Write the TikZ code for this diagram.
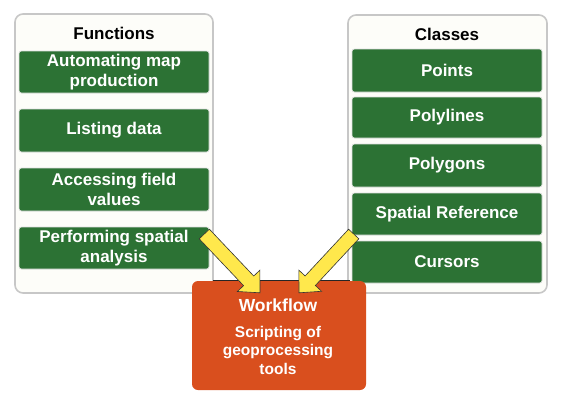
\documentclass[tikz,border=0pt]{standalone}
\usepackage{fontspec}
\setmainfont{Liberation Sans}
\usetikzlibrary{calc}
\definecolor{boxgreen}{HTML}{2C7234}
\definecolor{wforange}{HTML}{D94F1E}
\definecolor{arrowyellow}{HTML}{FFE84C}
\definecolor{panelfill}{HTML}{FDFDF9}
\tikzset{
  panel/.style={draw=black!22, line width=1.6pt, fill=panelfill, rounded corners=8pt},
  greenbox/.style={fill=boxgreen, draw=black!12, line width=0.6pt, rounded corners=2.5pt, text=white,
    font=\fontsize{17}{20.5}\selectfont\bfseries, align=center, inner sep=0pt},
  paneltitle/.style={font=\fontsize{17}{20}\selectfont\bfseries, text=black},
  wfbox/.style={fill=wforange, rounded corners=6pt, inner sep=0pt},
  wftext/.style={text=white, font=\bfseries, align=center},
  blockarrow/.style={fill=arrowyellow, draw=black!80, line width=0.6pt, line join=miter}
}
\newcommand{\blockarrowpath}[3]{% tail, tip, head-base coordinate names
  \draw[blockarrow] ($(#1)!7pt!90:(#2)$) -- ($(#3)!7pt!-90:(#1)$) -- ($(#3)!15.5pt!-90:(#1)$)
    -- (#2) -- ($(#3)!15.5pt!90:(#1)$) -- ($(#3)!7pt!90:(#1)$) -- ($(#1)!7pt!-90:(#2)$) -- cycle;}
\begin{document}
\begin{tikzpicture}[x=1pt,y=-1pt]
\useasboundingbox (0,0) rectangle (581,402);
% panels
\path[panel] (15,14) rectangle (213,293);
\path[panel] (348,15) rectangle (547,293);
\node[paneltitle] (fnT) at (114,33) {Functions};
\node[paneltitle] (clT) at (447,34) {Classes};
% functions
\node[greenbox, minimum width=190pt, minimum height=42pt] (f1) at (114,72) {Automating map\\production};
\node[greenbox, minimum width=190pt, minimum height=43pt] (f2) at (114,130.5) {Listing data};
\node[greenbox, minimum width=190pt, minimum height=43pt] (f3) at (114,189.5) {Accessing field\\values};
\node[greenbox, minimum width=190pt, minimum height=42pt] (f4) at (114,248) {Performing spatial\\analysis};
% classes
\node[greenbox, minimum width=190pt, minimum height=43pt] (c1) at (447,70.5) {Points};
\node[greenbox, minimum width=190pt, minimum height=41pt] (c2) at (447,117.5) {Polylines};
\node[greenbox, minimum width=190pt, minimum height=43pt] (c3) at (447,165.5) {Polygons};
\node[greenbox, minimum width=190pt, minimum height=42pt] (c4) at (447,214) {Spatial Reference};
\node[greenbox, minimum width=190pt, minimum height=42pt] (c5) at (447,262) {Cursors};
% workflow
\draw[black!85, line width=1pt] (213,280.5) -- (350,280.5);
\node[wfbox, minimum width=174pt, minimum height=109pt] (wf) at (279,335.5) {};
\node[wftext, font=\fontsize{17.5}{20}\selectfont\bfseries] (wfT) at (278,305) {Workflow};
\node[wftext, font=\fontsize{15.5}{18.5}\selectfont\bfseries] (wfS) at (278,350) {Scripting of\\geoprocessing\\tools};
% arrows
\coordinate (T1) at ($(f4.east)+(-5,-14)$);
\coordinate (P1) at ($(wf.north)+(-19,12)$);
\coordinate (H1) at ($(P1)!16.5pt!(T1)$);
\coordinate (T2) at ($(c5.west)+(2,-28)$);
\coordinate (P2) at ($(wf.north)+(20,12)$);
\coordinate (H2) at ($(P2)!16.5pt!(T2)$);
\blockarrowpath{T1}{P1}{H1}
\blockarrowpath{T2}{P2}{H2}
\end{tikzpicture}
\end{document}
